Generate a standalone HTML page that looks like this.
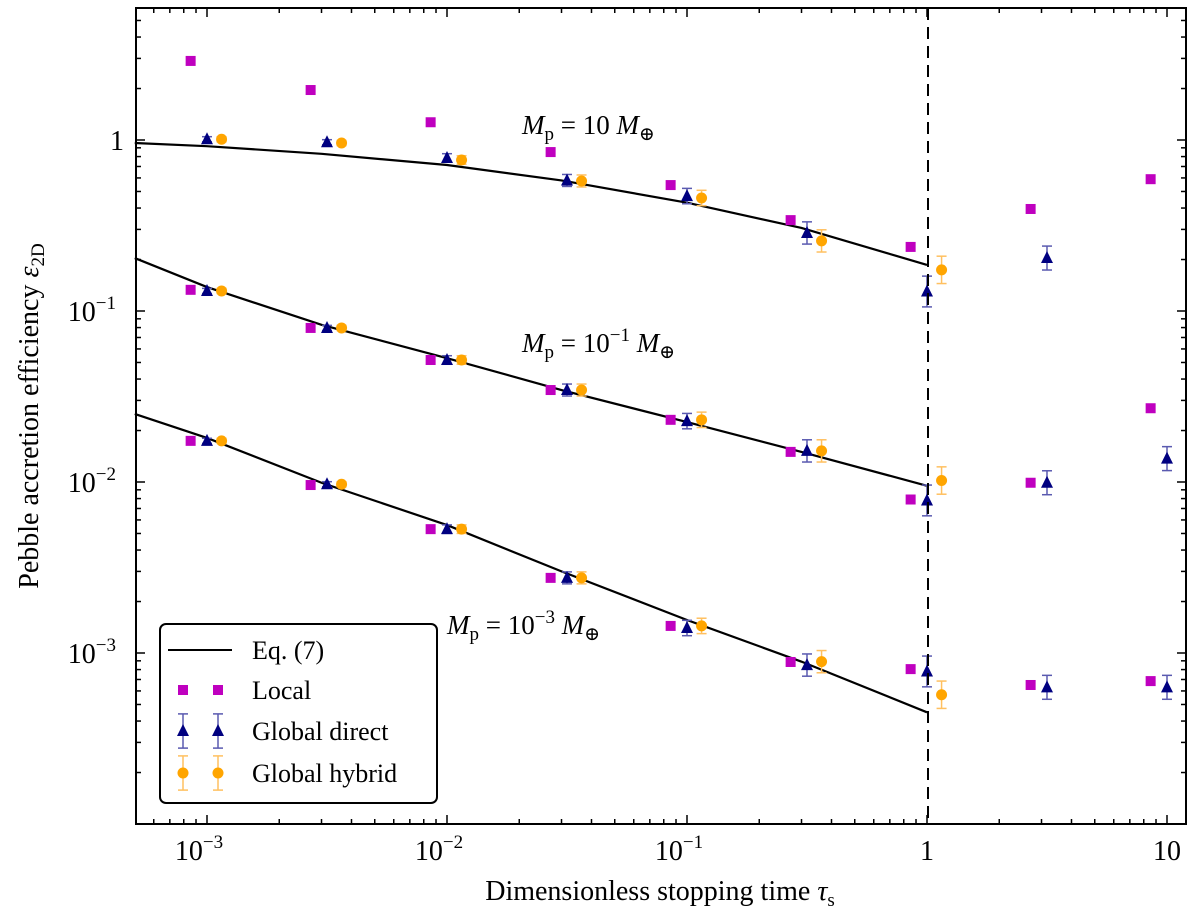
<!DOCTYPE html>
<html><head><meta charset="utf-8"><style>
body{margin:0;background:#fff}
svg text{font-family:"Liberation Serif","DejaVu Serif",serif;fill:#000}
</style></head><body>
<svg id="chart" width="1200" height="916" viewBox="0 0 1200 916" xmlns="http://www.w3.org/2000/svg">
<g id="grid"></g>
<g id="marks"></g>
<rect x="136" y="8" width="1050" height="816" fill="none" stroke="#000" stroke-width="2"/>
<line x1="928" y1="8" x2="928" y2="824" stroke="#000" stroke-width="2" stroke-dasharray="12,7"/>
<text x="522" y="134" font-size="27" font-style="italic">M<tspan font-size="19" dy="6" font-style="normal">p</tspan><tspan dy="-6" font-style="normal"> = 10 </tspan>M<tspan font-size="19" dy="6" font-style="normal">⊕</tspan></text>
<text x="522" y="352" font-size="27" font-style="italic">M<tspan font-size="19" dy="6" font-style="normal">p</tspan><tspan dy="-6" font-style="normal"> = 10</tspan><tspan font-size="19" dy="-11" font-style="normal">−1</tspan><tspan dy="11" font-style="normal">  </tspan>M<tspan font-size="19" dy="6" font-style="normal">⊕</tspan></text>
<text x="447" y="634" font-size="27" font-style="italic">M<tspan font-size="19" dy="6" font-style="normal">p</tspan><tspan dy="-6" font-style="normal"> = 10</tspan><tspan font-size="19" dy="-11" font-style="normal">−3</tspan><tspan dy="11" font-style="normal">  </tspan>M<tspan font-size="19" dy="6" font-style="normal">⊕</tspan></text>
<text x="660" y="900" font-size="28" text-anchor="middle">Dimensionless stopping time <tspan font-style="italic">τ</tspan><tspan font-size="19" dy="6">s</tspan></text>
<text transform="translate(38,416) rotate(-90)" font-size="28" text-anchor="middle">Pebble accretion efficiency <tspan font-style="italic">ε</tspan><tspan font-size="19" dy="6">2D</tspan></text>
<g>
<rect x="160" y="624" width="277" height="179" rx="6" fill="#fff" stroke="#000" stroke-width="2"/>
<line x1="168" y1="650" x2="232" y2="650" stroke="#000" stroke-width="2"/>
<text x="252" y="659" font-size="26">Eq. (7)</text>
<rect x="178" y="685" width="10" height="10" fill="#bf00bf"/>
<rect x="213" y="685" width="10" height="10" fill="#bf00bf"/>
<text x="252" y="699" font-size="26">Local</text>
<g id="legdir"></g>
<text x="252" y="740" font-size="26">Global direct</text>
<text x="252" y="782" font-size="26">Global hybrid</text>
</g>
</svg>
<script>
const taus=[1e-3,3.162e-3,1e-2,3.162e-2,0.1,0.3162,1,3.162,10];
const local10=[2.9,1.96,1.27,0.85,0.545,0.34,0.237,0.395,0.59];
const direct10=[1.01,0.97,0.785,0.58,0.47,0.286,0.13,0.204];
const hybrid10=[1.01,0.96,0.764,0.576,0.458,0.257,0.174];
const local01=[0.133,0.0796,0.0517,0.0345,0.0231,0.015,0.0079,0.0099,0.027];
const direct01=[0.131,0.0796,0.0517,0.0345,0.0227,0.0152,0.0078,0.0099,0.0137];
const hybrid01=[0.131,0.0796,0.0517,0.0345,0.0231,0.0152,0.0102];
const local0001=[0.0174,0.0096,0.0053,0.00275,0.00144,0.000886,0.000805,0.00065,0.000685];
const direct0001=[0.0174,0.0097,0.0053,0.00275,0.0014,0.00085,0.00078,0.00063,0.00063];
const hybrid0001=[0.0174,0.0097,0.0053,0.00275,0.00144,0.00089,0.00057];
const errDirect=[0.015,0.015,0.025,0.035,0.045,0.065,0.09,0.07,0.07];
const errHybrid=[0.015,0.015,0.025,0.035,0.045,0.065,0.08];
const curveTau=[5e-4,1e-3,3e-3,1e-2,3e-2,0.1,0.3,1];
const curve10=[0.96,0.92,0.83,0.714,0.58,0.43,0.306,0.186];
const curve01=[0.204,0.138,0.083,0.053,0.0345,0.0224,0.015,0.0095];
const curve0001=[0.025,0.0181,0.0099,0.0056,0.003,0.00156,0.00089,0.00045];
const xTickLabels=["10^-3","10^-2","10^-1","1","10"];
const yTickLabels=["10^-3","10^-2","10^-1","1"];

const NS="http://www.w3.org/2000/svg";
const X=v=>207+(Math.log10(v)+3)*240;
const Y=v=>140-Math.log10(v)*171;
function mk(tag,attrs,parent){const e=document.createElementNS(NS,tag);for(const k in attrs)e.setAttribute(k,attrs[k]);parent.appendChild(e);return e;}
const grid=document.getElementById('grid'),marks=document.getElementById('marks');
for(let d=-4;d<=1;d++){for(let m=1;m<10;m++){const v=m*Math.pow(10,d);const x=X(v);if(x<136||x>1186)continue;const L=m===1?9:5;
 let t=mk('line',{x1:x,y1:824,x2:x,y2:824-L,stroke:'#000','stroke-width':1.5},grid);
 t=mk('line',{x1:x,y1:8,x2:x,y2:8+L,stroke:'#000','stroke-width':1.5},grid);}}
for(let d=-4;d<=0;d++){for(let m=1;m<10;m++){const v=m*Math.pow(10,d);const y=Y(v);if(y<8||y>824)continue;const L=m===1?9:5;
 let t=mk('line',{x1:136,y1:y,x2:136+L,y2:y,stroke:'#000','stroke-width':1.5},grid);
 t=mk('line',{x1:1186,y1:y,x2:1186-L,y2:y,stroke:'#000','stroke-width':1.5},grid);}}
function lab(s,x,y,anchor,parent,name){const t=mk('text',{x:x,y:y,'font-size':28,'text-anchor':anchor},parent);
 if(s.indexOf('^')>=0){const [b,e]=s.split('^');t.textContent=b;const ts=mk('tspan',{'font-size':19,dy:-12},t);ts.textContent=e.replace('-','−');}else t.textContent=s;}
xTickLabels.forEach((s,i)=>{const x=X(Math.pow(10,i-3));lab(s,s.length>2?x-8:x,860,'middle',grid,'x-tick-label');});
yTickLabels.forEach((s,i)=>{const y=Y(Math.pow(10,i-3));lab(s,s.length>2?116:124,y+10,'end',grid,'y-tick-label');});
[[curve10,'eq7-curve-mp10'],[curve01,'eq7-curve-mp0p1'],[curve0001,'eq7-curve-mp0p001']].forEach(([c,n])=>{
 const p=mk('polyline',{points:curveTau.map((t,i)=>X(t)+','+Y(c[i])).join(' '),fill:'none',stroke:'#000','stroke-width':2.2},marks);
 });
function sq(x,y,parent){const r=mk('rect',{x:x-5,y:y-5,width:10,height:10,fill:'#bf00bf'},parent);}
function tri(x,y,parent){const p=mk('polygon',{points:`${x},${y-7} ${x-6},${y+5} ${x+6},${y+5}`,fill:'#000080'},parent);}
function circ(x,y,parent){const c=mk('circle',{cx:x,cy:y,r:5.5,fill:'#ffa500'},parent);}
function eb(x,v,e,col,parent){const y1=Y(v*Math.pow(10,e)),y2=Y(v/Math.pow(10,e));const g=mk('g',{stroke:col,'stroke-width':1.5},parent);
 
 mk('line',{x1:x,y1:y1,x2:x,y2:y2},g);mk('line',{x1:x-5,y1:y1,x2:x+5,y2:y1},g);mk('line',{x1:x-5,y1:y2,x2:x+5,y2:y2},g);}
[local10,local01,local0001].forEach(a=>a.forEach((v,i)=>sq(X(taus[i]/1.17),Y(v),marks)));
[direct10,direct01,direct0001].forEach(a=>a.forEach((v,i)=>{eb(X(taus[i]),v,errDirect[i],'#5a5ab0',marks);tri(X(taus[i]),Y(v),marks);}));
[hybrid10,hybrid01,hybrid0001].forEach(a=>a.forEach((v,i)=>{eb(X(taus[i]*1.15),v,errHybrid[i],'#ffc060',marks);circ(X(taus[i]*1.15),Y(v),marks);}));
const ld=document.getElementById('legdir');
[183,218].forEach(x=>{eb(x,Math.pow(10,(140-731)/171),0.1,'#5a5ab0',ld);tri(x,731,ld);});
[183,218].forEach(x=>{eb(x,Math.pow(10,(140-773)/171),0.1,'#ffc060',ld);circ(x,773,ld);});
</script>
</body></html>
